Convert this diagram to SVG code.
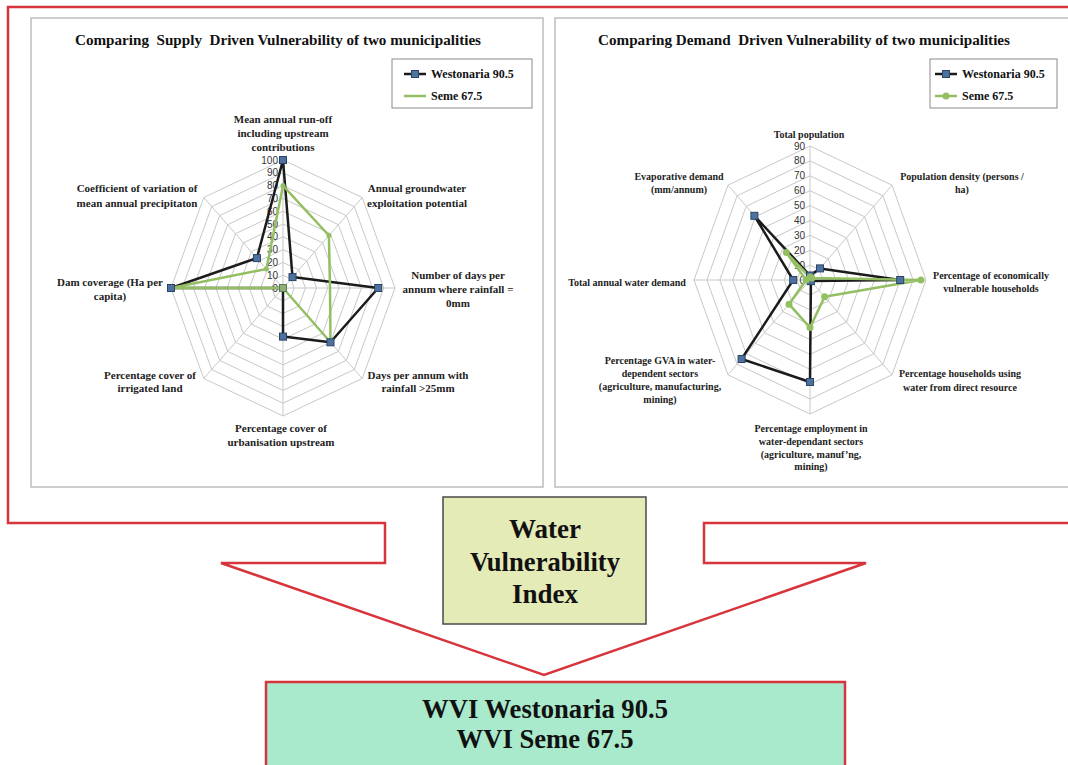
<svg xmlns="http://www.w3.org/2000/svg" xmlns:xlink="http://www.w3.org/1999/xlink" width="1068" height="765" viewBox="0 0 1068 765">
<style>
.panel{fill:#fff;stroke:#bdbdbd;stroke-width:1.5}
.grid{fill:none;stroke:#c8c8c8;stroke-width:1}
.tick{font-family:"Liberation Sans",Arial,sans-serif;font-size:10px;fill:#333;text-anchor:end}
.lab{font-family:"Liberation Serif","Times New Roman",serif;font-weight:bold;font-size:11px;fill:#222;text-anchor:middle}
.labR{font-size:10px}
.title{font-family:"Liberation Serif","Times New Roman",serif;font-weight:bold;font-size:14px;fill:#111;text-anchor:middle;white-space:pre}
.leg{font-family:"Liberation Serif","Times New Roman",serif;font-weight:bold;font-size:12px;fill:#111}
.legbox{fill:#fff;stroke:#8a8a8a;stroke-width:1}
.sw{fill:none;stroke:#1b1b1b;stroke-width:2.5;stroke-linejoin:round}
.ss{fill:none;stroke:#93bf62;stroke-width:2.5;stroke-linejoin:round}
.mk{fill:#4d72a0;stroke:#2b4466;stroke-width:1}
.gm{fill:#93bf62}
.red{fill:none;stroke:#d8343c;stroke-width:2.5;stroke-linejoin:miter}
.big{font-family:"Liberation Serif","Times New Roman",serif;font-weight:bold;font-size:28px;fill:#111;text-anchor:middle}
</style>
<defs>
<rect id="sq" class="mk" x="-3.5" y="-3.5" width="7" height="7"/>
<circle id="dot" class="gm" r="3.5"/>
<circle id="sdot" class="gm" r="2.5"/>
</defs>

<g id="connectors">
<path class="red" d="M1072,7 L8,7 L8,523 L385,523 L385,563 L221,563 L544,675 L866,563 L704,563 L704,523 L1072,523"/>
</g>

<g id="supply-chart">
<rect class="panel" x="31" y="18" width="512" height="469"/>
<text class="title" x="278" y="45" textLength="406" lengthAdjust="spacingAndGlyphs">Comparing  Supply  Driven Vulnerability of two municipalities</text>
<g class="grid">
<polygon points="283,275.2 290.9,279 294.2,288 290.9,297 283,300.8 275.1,297 271.8,288 275.1,279"/>
<polygon points="283,262.4 298.8,269.9 305.4,288 298.8,306.1 283,313.6 267.2,306.1 260.6,288 267.2,269.9"/>
<polygon points="283,249.6 306.8,260.9 316.6,288 306.8,315.2 283,326.4 259.2,315.2 249.4,288 259.2,260.9"/>
<polygon points="283,236.8 314.7,251.8 327.8,288 314.7,324.2 283,339.2 251.3,324.2 238.2,288 251.3,251.8"/>
<polygon points="283,224 322.6,242.8 339,288 322.6,333.3 283,352 243.4,333.3 227,288 243.4,242.8"/>
<polygon points="283,211.2 330.5,233.7 350.2,288 330.5,342.3 283,364.8 235.5,342.3 215.8,288 235.5,233.7"/>
<polygon points="283,198.4 338.4,224.7 361.4,288 338.4,351.4 283,377.6 227.6,351.4 204.6,288 227.6,224.7"/>
<polygon points="283,185.6 346.4,215.6 372.6,288 346.4,360.4 283,390.4 219.6,360.4 193.4,288 219.6,215.6"/>
<polygon points="283,172.8 354.3,206.6 383.8,288 354.3,369.5 283,403.2 211.7,369.5 182.2,288 211.7,206.6"/>
<polygon points="283,160 362.2,197.5 395,288 362.2,378.5 283,416 203.8,378.5 171,288 203.8,197.5"/>
<path d="M283,288 L283,160 M283,288 L362.2,197.5 M283,288 L395,288 M283,288 L362.2,378.5 M283,288 L283,416 M283,288 L203.8,378.5 M283,288 L171,288 M283,288 L203.8,197.5"/>
</g>
<g>
<text class="tick" x="278" y="291.5">0</text>
<text class="tick" x="278" y="278.7">10</text>
<text class="tick" x="278" y="265.9">20</text>
<text class="tick" x="278" y="253.1">30</text>
<text class="tick" x="278" y="240.3">40</text>
<text class="tick" x="278" y="227.5">50</text>
<text class="tick" x="278" y="214.7">60</text>
<text class="tick" x="278" y="201.9">70</text>
<text class="tick" x="278" y="189.1">80</text>
<text class="tick" x="278" y="176.3">90</text>
<text class="tick" x="278" y="163.5">100</text>
</g>
<polygon class="sw" points="283,160 292.5,277.1 378.2,288 330.5,342.3 283,336.6 283,288 171,288 256.9,258.1"/>
<polygon class="ss" points="283,185.6 328.9,235.5 330,288 330.5,342.3 283,288 283,288 171,288 266.4,269"/>
<use xlink:href="#sdot" x="283" y="185.6"/>
<use xlink:href="#sdot" x="328.9" y="235.5"/>
<use xlink:href="#sdot" x="266.4" y="269"/>
<use xlink:href="#sq" x="283" y="160"/>
<use xlink:href="#sq" x="292.5" y="277.1"/>
<use xlink:href="#sq" x="378.2" y="288"/>
<use xlink:href="#sq" x="330.5" y="342.3"/>
<use xlink:href="#sq" x="283" y="336.6"/>
<use xlink:href="#sq" x="171" y="288"/>
<use xlink:href="#sq" x="256.9" y="258.1"/>
<rect x="279.5" y="284.5" width="7" height="7" fill="#8fae78" stroke="#5d7a52" stroke-width="1"/>
<g class="lab">
<text x="283" y="123">Mean annual run-off</text>
<text x="283" y="137">including upstream</text>
<text x="283" y="151">contributions</text>
<text x="137" y="192">Coefficient of variation of</text>
<text x="137" y="207">mean annual precipitaton</text>
<text x="417" y="192">Annual groundwater</text>
<text x="417" y="207">exploitation potential</text>
<text x="458" y="279">Number of days per</text>
<text x="458" y="293">annum where rainfall =</text>
<text x="458" y="307">0mm</text>
<text x="110" y="286">Dam coverage (Ha per</text>
<text x="110" y="300">capita)</text>
<text x="418" y="379">Days per annum with</text>
<text x="418" y="392">rainfall &gt;25mm</text>
<text x="150" y="379">Percentage cover of</text>
<text x="150" y="392">irrigated land</text>
<text x="281" y="432">Percentage cover of</text>
<text x="281" y="446">urbanisation upstream</text>
</g>
<g id="supply-legend">
<rect class="legbox" x="392" y="59" width="140" height="49"/>
<line x1="404" y1="74" x2="426" y2="74" stroke="#1b1b1b" stroke-width="2.5"/>
<use xlink:href="#sq" x="415" y="74"/>
<text class="leg" x="431" y="78">Westonaria 90.5</text>
<line x1="404" y1="96" x2="426" y2="96" stroke="#93bf62" stroke-width="2.5"/>
<text class="leg" x="431" y="100">Seme 67.5</text>
</g>
</g>

<g id="demand-chart">
<rect class="panel" x="555" y="18" width="520" height="469"/>
<text class="title" x="804" y="45" textLength="412" lengthAdjust="spacingAndGlyphs">Comparing Demand  Driven Vulnerability of two municipalities</text>
<g class="grid">
<polygon points="810,265.1 819.1,269.5 822.9,280 819.1,290.5 810,294.9 800.9,290.5 797.1,280 800.9,269.5"/>
<polygon points="810,250.2 828.2,258.9 835.8,280 828.2,301.1 810,309.8 791.8,301.1 784.2,280 791.8,258.9"/>
<polygon points="810,235.3 837.3,248.4 848.7,280 837.3,311.6 810,324.7 782.7,311.6 771.3,280 782.7,248.4"/>
<polygon points="810,220.4 846.5,237.9 861.6,280 846.5,322.1 810,339.6 773.5,322.1 758.4,280 773.5,237.9"/>
<polygon points="810,205.6 855.6,227.4 874.4,280 855.6,332.7 810,354.4 764.4,332.7 745.6,280 764.4,227.4"/>
<polygon points="810,190.7 864.7,216.8 887.3,280 864.7,343.2 810,369.3 755.3,343.2 732.7,280 755.3,216.8"/>
<polygon points="810,175.8 873.8,206.3 900.2,280 873.8,353.7 810,384.2 746.2,353.7 719.8,280 746.2,206.3"/>
<polygon points="810,160.9 882.9,195.8 913.1,280 882.9,364.2 810,399.1 737.1,364.2 706.9,280 737.1,195.8"/>
<polygon points="810,146 892,185.2 926,280 892,374.8 810,414 728,374.8 694,280 728,185.2"/>
<path d="M810,280 L810,146 M810,280 L892,185.2 M810,280 L926,280 M810,280 L892,374.8 M810,280 L810,414 M810,280 L728,374.8 M810,280 L694,280 M810,280 L728,185.2"/>
</g>
<g>
<text class="tick" x="805" y="283.5">0</text>
<text class="tick" x="805" y="268.6">10</text>
<text class="tick" x="805" y="253.7">20</text>
<text class="tick" x="805" y="238.8">30</text>
<text class="tick" x="805" y="224">40</text>
<text class="tick" x="805" y="209.1">50</text>
<text class="tick" x="805" y="194.2">60</text>
<text class="tick" x="805" y="179.3">70</text>
<text class="tick" x="805" y="164.4">80</text>
<text class="tick" x="805" y="149.5">90</text>
</g>
<polygon class="sw" points="810,275.5 820,268.4 900.2,280 810.9,281.1 810,382 741.6,359 793.2,280 754.4,215.8"/>
<polygon class="ss" points="810,277 811.8,277.9 920.9,280 824.6,296.8 810,327.6 789,304.2 806.1,280 786.3,252.6"/>
<use xlink:href="#sq" x="810" y="275.5"/>
<use xlink:href="#sq" x="820" y="268.4"/>
<use xlink:href="#sq" x="900.2" y="280"/>
<use xlink:href="#sq" x="810.9" y="281.1"/>
<use xlink:href="#sq" x="810" y="382"/>
<use xlink:href="#sq" x="741.6" y="359"/>
<use xlink:href="#sq" x="793.2" y="280"/>
<use xlink:href="#sq" x="754.4" y="215.8"/>
<use xlink:href="#dot" x="810" y="277"/>
<use xlink:href="#dot" x="811.8" y="277.9"/>
<use xlink:href="#dot" x="920.9" y="280"/>
<use xlink:href="#dot" x="824.6" y="296.8"/>
<use xlink:href="#dot" x="810" y="327.6"/>
<use xlink:href="#dot" x="789" y="304.2"/>
<use xlink:href="#dot" x="806.1" y="280"/>
<use xlink:href="#dot" x="786.3" y="252.6"/>
<g class="lab labR">
<text x="809" y="137.5">Total population</text>
<text x="679" y="179.5">Evaporative demand</text>
<text x="679" y="192.5">(mm/annum)</text>
<text x="962" y="179.5">Population density (persons /</text>
<text x="962" y="192.5">ha)</text>
<text x="627" y="285.5">Total annual water demand</text>
<text x="991" y="278.5">Percentage of economically</text>
<text x="991" y="291.5">vulnerable households</text>
<text x="960" y="376.5">Percentage households using</text>
<text x="960" y="390.5">water from direct resource</text>
<text x="660" y="363.5">Percentage GVA in water-</text>
<text x="660" y="376.5">dependent sectors</text>
<text x="660" y="389.5">(agriculture, manufacturing,</text>
<text x="660" y="402.5">mining)</text>
<text x="811" y="431.5">Percentage employment in</text>
<text x="811" y="444.5">water-dependant sectors</text>
<text x="811" y="457.5">(agriculture, manuf’ng,</text>
<text x="811" y="469.5">mining)</text>
</g>
<g id="demand-legend">
<rect class="legbox" x="930" y="59" width="127" height="49"/>
<line x1="935" y1="74" x2="957" y2="74" stroke="#1b1b1b" stroke-width="2.5"/>
<use xlink:href="#sq" x="946" y="74"/>
<text class="leg" x="962" y="78">Westonaria 90.5</text>
<line x1="935" y1="96" x2="957" y2="96" stroke="#93bf62" stroke-width="2.5"/>
<use xlink:href="#dot" x="946" y="96"/>
<text class="leg" x="962" y="100">Seme 67.5</text>
</g>
</g>

<g id="wvi-box">
<rect x="443" y="497" width="203" height="127" fill="#e5ebb7" stroke="#4a4a4a" stroke-width="1.5"/>
<text class="big" x="545" y="538" textLength="72" lengthAdjust="spacingAndGlyphs">Water</text>
<text class="big" x="545" y="571" textLength="150" lengthAdjust="spacingAndGlyphs">Vulnerability</text>
<text class="big" x="545" y="603" textLength="66" lengthAdjust="spacingAndGlyphs">Index</text>
</g>

<g id="result-box">
<rect x="266" y="682" width="579" height="95" fill="#a9e9cc" stroke="#d8343c" stroke-width="2.5"/>
<text class="big" x="545" y="718" textLength="246" lengthAdjust="spacingAndGlyphs">WVI Westonaria 90.5</text>
<text class="big" x="545" y="748" textLength="177" lengthAdjust="spacingAndGlyphs">WVI Seme 67.5</text>
</g>
</svg>
